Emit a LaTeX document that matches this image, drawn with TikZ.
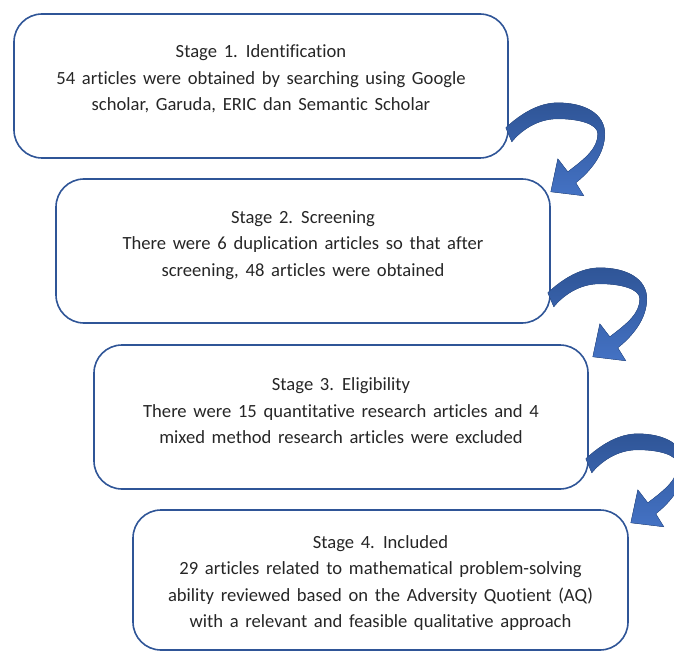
\documentclass[tikz,border=0pt]{standalone}
\usepackage{fontspec}
\setmainfont{Carlito}[Ligatures=NoCommon]
\definecolor{boxblue}{HTML}{2F5597}
\definecolor{arrowdark}{HTML}{2F5597}
\definecolor{arrowlight}{HTML}{4472C4}
\definecolor{textgray}{HTML}{262626}
\newcommand{\stagefont}{\fontsize{18.6}{26.5}\selectfont\spaceskip 0.36em plus 0.1em minus 0.05em\relax}
\begin{document}
\begin{tikzpicture}[x=1pt,y=-1pt,
        stagebox/.style={draw=boxblue, line width=1.6pt, rounded corners=28pt,
            minimum width=494pt, minimum height=144pt, inner sep=0pt},
        stagetext/.style={align=center, text=textgray, font=\stagefont},
        bendarrow/.style={top color=arrowdark, bottom color=arrowlight, draw=arrowdark, line width=0.4pt}]
        \useasboundingbox (0,0) rectangle (674,652);
        % stages
        \node[stagebox] (s1) at (261,86) {};
        \node[stagebox] (s2) at (303,251) {};
        \node[stagebox] (s3) at (341,417) {};
        \node[stagebox, minimum width=495pt, minimum height=140pt] (s4) at (380.5,580) {};
        \node[stagetext] (t1) at ([yshift=7pt]s1.center) {Stage 1. Identification\\54 articles were obtained by searching using Google\\scholar, Garuda, ERIC dan Semantic Scholar};
        \node[stagetext] (t2) at ([yshift=6pt]s2.center) {Stage 2. Screening\\There were 6 duplication articles so that after\\screening, 48 articles were obtained};
        \node[stagetext] (t3) at ([yshift=6pt]s3.center) {Stage 3. Eligibility\\There were 15 quantitative research articles and 4\\mixed method research articles were excluded};
        \node[stagetext] (t4) at ([yshift=-3pt]s4.center) {Stage 4. Included\\29 articles related to mathematical problem-solving\\ability reviewed based on the Adversity Quotient (AQ)\\with a relevant and feasible qualitative approach};
        % curved arrows between stages
        \foreach \s in {s1,s2,s3} {
            \begin{scope}[shift={(\s.south east)}]
                \filldraw[bendarrow] (-3,-31) .. controls (12,-45) and (30,-56) .. (49,-56)
                    .. controls (76,-56) and (96,-45) .. (96,-25)
                    .. controls (96,-5) and (82,12) .. (67,24)
                    -- (75,37) -- (42,33) -- (49,0) -- (59,13)
                    .. controls (76,0) and (89,-10) .. (89,-25)
                    .. controls (89,-35) and (70,-40) .. (49,-40)
                    .. controls (28,-40) and (12,-28) .. (3,-17) -- cycle;
            \end{scope}
        }
    \end{tikzpicture}
\end{document}
